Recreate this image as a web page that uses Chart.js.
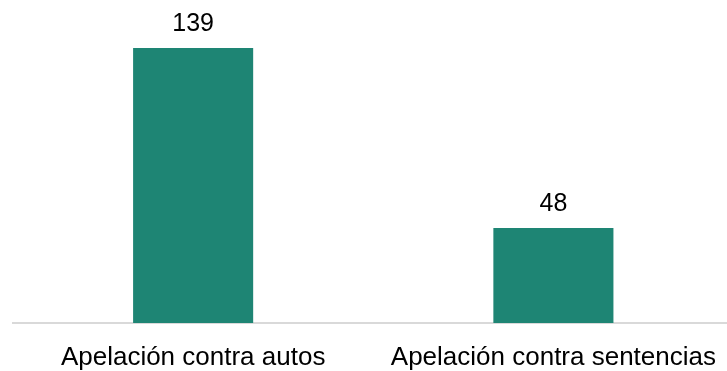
<!DOCTYPE html>
<html>
<head>
<meta charset="utf-8">
<script src="https://cdn.jsdelivr.net/npm/chart.js@4/dist/chart.umd.min.js"></script>
<style>
html,body{margin:0;padding:0;background:#fff;overflow:hidden;}
#wrap{position:absolute;left:0;top:0;width:735px;height:371px;}
</style>
</head>
<body>
<div id="wrap"><canvas id="c"></canvas></div>
<script>
const categories = ["Apelación contra autos", "Apelación contra sentencias"];
const values = [139, 48];

const FONT = "'Liberation Sans', Arial, Helvetica, sans-serif";

const valueLabels = {
  id: 'valueLabels',
  afterDatasetsDraw(chart) {
    const ctx = chart.ctx;
    const meta = chart.getDatasetMeta(0);
    ctx.save();
    ctx.font = "25px " + FONT;
    ctx.fillStyle = "#000";
    ctx.textAlign = "center";
    ctx.textBaseline = "alphabetic";
    meta.data.forEach((bar, i) => {
      ctx.fillText(String(values[i]), bar.x, bar.y - 17.5);
    });
    ctx.restore();
  }
};

new Chart(document.getElementById('c'), {
  type: 'bar',
  data: {
    labels: categories,
    datasets: [{
      data: values,
      backgroundColor: '#1E8574',
      barPercentage: 0.3333,
      categoryPercentage: 1.0
    }]
  },
  options: {
    responsive: true,
    maintainAspectRatio: false,
    animation: false,
    layout: { padding: { left: 13, right: 0, top: 0, bottom: 0 } },
    plugins: { legend: { display: false }, tooltip: { enabled: false } },
    scales: {
      x: {
        grid: { display: false, drawTicks: false },
        border: { display: true, color: '#d9d9d9', width: 2 },
        ticks: { color: '#000', font: { family: FONT, size: 26 }, padding: 19, maxRotation: 0, autoSkip: false },
        afterFit(scale) { scale.height = 48; }
      },
      y: {
        display: false,
        min: 0,
        max: 163.3
      }
    }
  },
  plugins: [valueLabels]
});
</script>
</body>
</html>
